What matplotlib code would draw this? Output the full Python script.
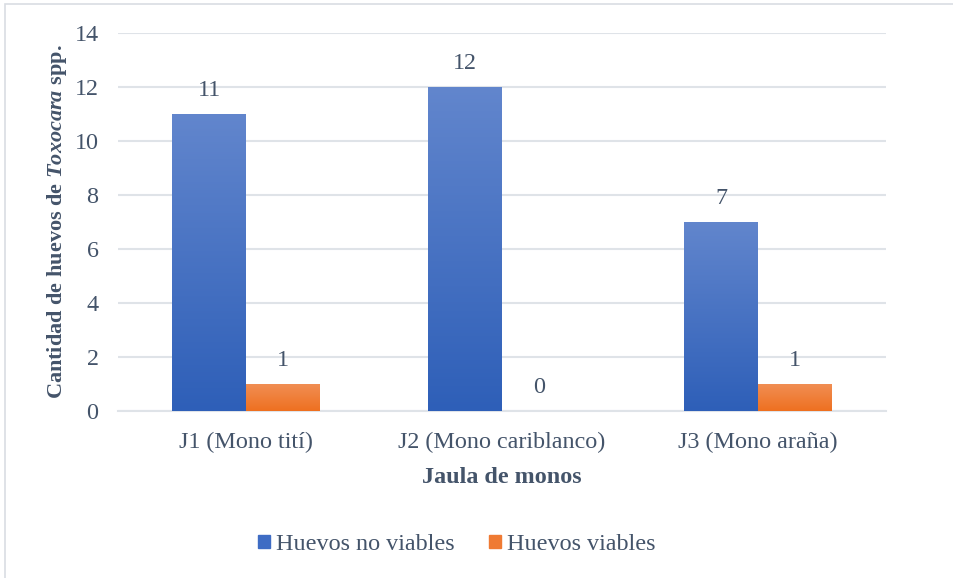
import matplotlib.pyplot as plt
import numpy as np
from matplotlib.patches import Rectangle
from matplotlib.colors import LinearSegmentedColormap

plt.rcParams['font.family'] = ['Liberation Serif', 'DejaVu Serif']
plt.rcParams['mathtext.fontset'] = 'custom'
plt.rcParams['mathtext.rm'] = 'Liberation Serif:bold'
plt.rcParams['mathtext.it'] = 'Liberation Serif:bold:italic'

categories = ["J1 (Mono tití)", "J2 (Mono cariblanco)", "J3 (Mono araña)"]
no_viables = [11, 12, 7]
viables = [1, 0, 1]
series_names = ["Huevos no viables", "Huevos viables"]

text_col = "#44546a"
blue_top, blue_bot = "#6286cd", "#2e5fb8"
orange_top, orange_bot = "#f18f55", "#ee7020"
fs = 17.4

fig = plt.figure(figsize=(9.54, 5.78), dpi=100)
ax = fig.add_axes([0.1237, 0.289, 0.805, 0.654])

# light border round the chart
fig.patches.append(Rectangle((0.005, -0.01), 1.0, 1.003, transform=fig.transFigure,
                             fill=False, edgecolor="#d9dde3", linewidth=1.2))

x = np.arange(len(categories))
w = 0.289
grad = np.linspace(0, 1, 256).reshape(-1, 1)


def gradient_bars(xs, vals, top, bot):
    cmap = LinearSegmentedColormap.from_list("g", [bot, top])
    bars = ax.bar(xs, vals, w, color=bot, zorder=2)
    for b in bars:
        if b.get_height() <= 0:
            continue
        x0, y0 = b.get_x(), b.get_y()
        im = ax.imshow(grad, cmap=cmap, origin="lower", aspect="auto",
                       extent=[x0, x0 + b.get_width(), y0, y0 + b.get_height()], zorder=3)
        im.set_clip_path(b)
    return bars


b1 = gradient_bars(x - w / 2, no_viables, blue_top, blue_bot)
b2 = gradient_bars(x + w / 2, viables, orange_top, orange_bot)

for xs, vals in ((x - w / 2, no_viables), (x + w / 2, viables)):
    for xi, v in zip(xs, vals):
        ax.annotate(str(v), (xi, v), xytext=(0, 17), textcoords="offset points",
                    ha="center", va="center", fontsize=fs, color=text_col)

ax.set_xlim(-0.5, 2.5)
ax.set_ylim(0, 14)
ax.set_yticks(range(0, 15, 2))
ax.set_xticks(x)
ax.set_xticklabels(categories)
ax.yaxis.grid(True, color="#dfe3e8", linewidth=1.5, zorder=0)
ax.set_axisbelow(True)
for s in ["top", "right", "left"]:
    ax.spines[s].set_visible(False)
ax.spines["bottom"].set_color("#dfe3e8")
ax.spines["bottom"].set_linewidth(1.5)
ax.tick_params(axis="both", length=0, labelsize=fs, labelcolor=text_col)
ax.tick_params(axis="y", pad=14)
ax.tick_params(axis="x", pad=15)

ax.set_xlabel("Jaula de monos", fontsize=fs, fontweight="bold", color=text_col, labelpad=10)
ax.set_ylabel(r"Cantidad de huevos de $\mathit{Toxocara}$ spp.", fontsize=16,
              fontweight="bold", color=text_col, labelpad=4)

h1 = Rectangle((0, 0), 1, 1, color="#3e6cc4")
h2 = Rectangle((0, 0), 1, 1, color="#ef7a33")
fig.legend([h1, h2], series_names, loc="center", bbox_to_anchor=(0.479, 0.058), ncol=2,
           frameon=False, fontsize=fs, labelcolor=text_col, handlelength=0.5,
           handleheight=0.5, handletextpad=0.25, columnspacing=1.4)

fig.savefig("out.png", dpi=100)
